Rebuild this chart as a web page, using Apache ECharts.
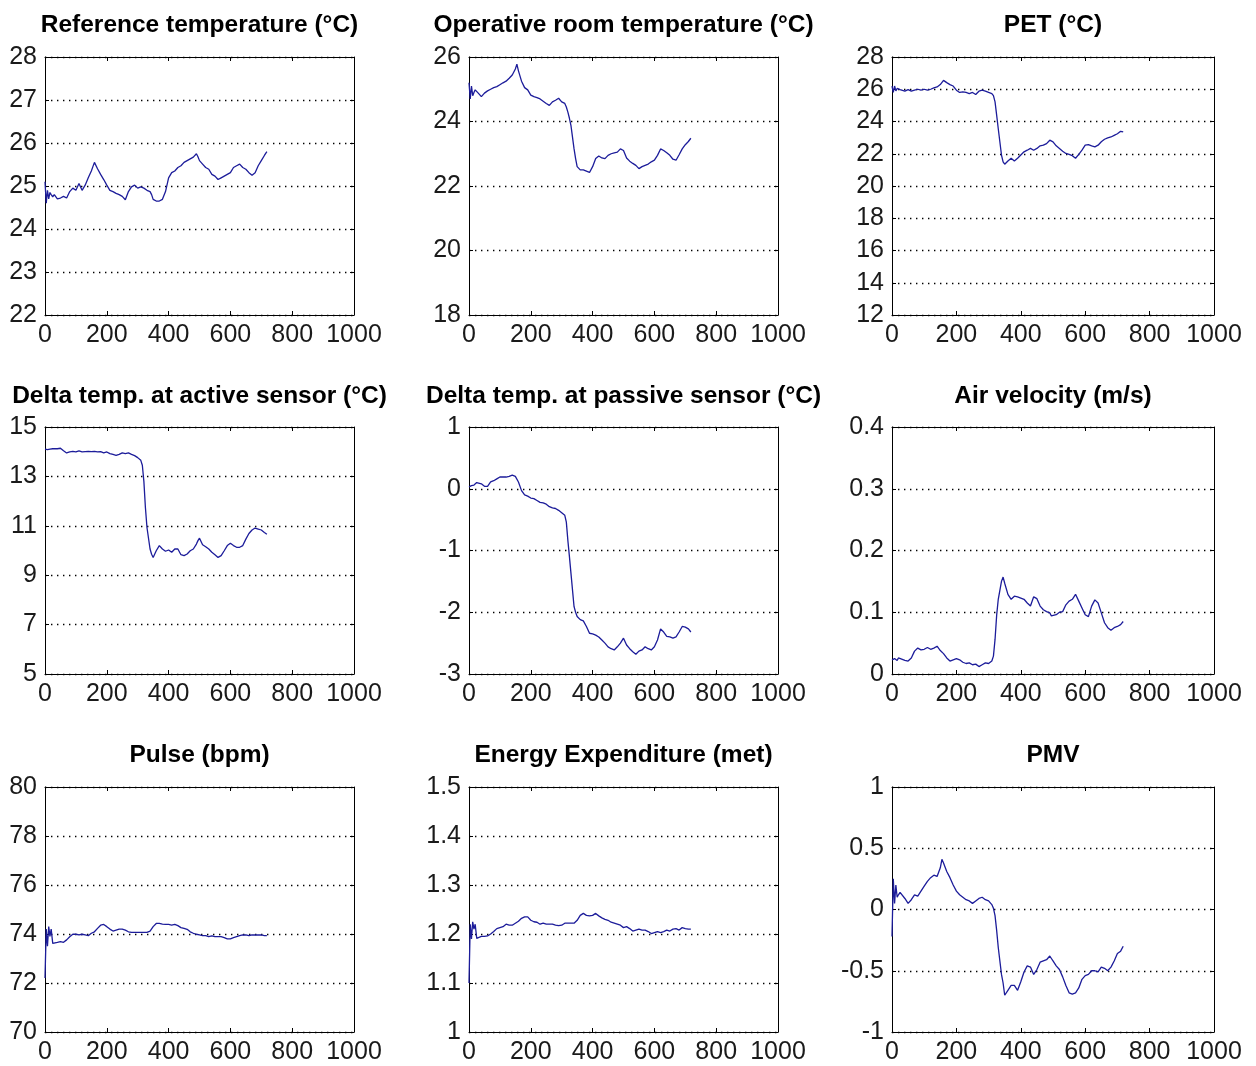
<!DOCTYPE html>
<html>
<head>
<meta charset="utf-8">
<script src="https://cdn.jsdelivr.net/npm/echarts@6/dist/echarts.min.js"></script>
<style>
  html, body { margin: 0; padding: 0; background: #fff; }
  #chart { width: 1256px; height: 1066px; }
</style>
</head>
<body>
<div id="chart"></div>
<script>
// Sample times (s) shared by all nine recordings
const time = [0,4,8,12,16,20,25,30,40,50,60,70,80,90,100,110,120,130,140,150,155,160,170,180,190,200,210,220,230,240,250,260,270,280,290,300,310,315,320,325,330,340,345,350,360,370,380,390,400,410,420,430,440,450,460,470,480,490,495,500,510,520,530,540,550,560,570,580,590,600,610,620,630,640,650,660,670,680,690,700,710,718];

const refTemp = [25.10,24.60,24.90,24.70,24.85,24.80,24.75,
  24.80,24.70,24.72,24.76,24.72,24.87,24.95,24.90,25.06,24.90,25.02,25.19,25.35,
  25.45,
  25.55,25.40,25.27,25.15,25.02,24.90,24.87,24.83,24.80,24.76,24.68,24.87,24.98,25.02,24.95,24.98,
  24.96,24.95,24.93,24.90,24.87,24.80,
  24.69,24.65,24.65,24.69,24.87,25.19,25.31,25.35,25.43,25.47,25.55,25.59,25.63,25.67,25.75,
  25.68,
  25.59,25.51,25.43,25.39,25.27,25.23,25.15,25.19,25.23,25.27,25.31,25.43,25.47,25.51,25.43,25.39,25.31,25.25,25.31,25.47,25.59,25.71,
  25.80];

const opTemp = [25.20,24.70,25.10,24.80,24.90,24.98,24.93,
  24.88,24.77,24.88,24.95,25.00,25.05,25.08,25.14,25.20,25.25,25.34,25.44,25.63,
  25.78,
  25.57,25.25,25.05,24.98,24.82,24.77,24.74,24.70,24.63,24.56,24.50,24.61,24.66,24.72,24.61,24.56,
  24.45,24.29,24.10,23.87,23.15,22.85,
  22.60,22.50,22.50,22.46,22.42,22.60,22.85,22.93,22.87,22.85,22.95,23.00,23.03,23.05,23.15,
  23.18,
  23.10,22.87,22.77,22.70,22.64,22.54,22.60,22.64,22.68,22.75,22.80,22.95,23.15,23.10,23.03,22.95,22.83,22.80,22.97,23.15,23.28,23.38,
  23.48];

const pet = [26.20,25.80,26.20,25.90,26.05,25.94,25.98,
  26.00,25.88,25.98,25.88,25.94,26.00,25.94,26.00,25.94,26.00,26.08,26.14,26.29,
  26.40,
  26.55,26.41,26.29,26.20,25.94,25.80,25.84,25.80,25.73,25.80,25.67,25.88,25.94,25.88,25.80,25.73,
  25.60,25.22,24.40,23.55,21.92,21.50,
  21.35,21.55,21.72,21.55,21.72,21.92,22.12,22.22,22.33,22.22,22.33,22.49,22.53,22.63,22.84,
  22.94,
  22.74,22.49,22.33,22.16,22.02,21.96,21.88,21.72,21.96,22.22,22.53,22.57,22.49,22.43,22.53,22.74,22.90,22.98,23.04,23.14,23.24,23.39,
  23.35];

const activeDelta = [14.10,14.10,14.08,14.12,14.10,14.10,14.12,
  14.14,14.12,14.14,14.04,13.95,13.99,14.01,13.99,14.03,13.99,14.00,14.01,14.00,
  14.00,
  14.01,13.99,14.00,13.95,13.99,13.92,13.89,13.85,13.89,13.95,13.92,13.95,13.89,13.84,13.76,13.65,
  13.45,12.80,11.73,10.93,10.06,9.85,
  9.72,9.99,10.20,10.06,9.97,10.02,9.93,10.06,10.06,9.83,9.79,9.86,9.99,10.06,10.26,
  10.40,
  10.50,10.23,10.15,10.06,9.93,9.83,9.72,9.79,9.99,10.20,10.29,10.20,10.13,10.13,10.20,10.46,10.69,10.83,10.91,10.87,10.83,10.73,
  10.66];

const passiveDelta = [0.03,0.00,0.05,0.02,0.06,0.08,0.10,
  0.13,0.08,0.04,0.04,0.11,0.13,0.16,0.19,0.19,0.19,0.20,0.22,0.20,
  0.17,
  0.11,-0.03,-0.10,-0.12,-0.15,-0.16,-0.19,-0.22,-0.23,-0.25,-0.29,-0.31,-0.32,-0.35,-0.39,-0.43,
  -0.54,-0.84,-1.10,-1.37,-1.91,-2.00,
  -2.07,-2.12,-2.14,-2.23,-2.34,-2.35,-2.37,-2.40,-2.45,-2.50,-2.56,-2.59,-2.61,-2.56,-2.50,
  -2.46,
  -2.42,-2.53,-2.59,-2.64,-2.68,-2.63,-2.61,-2.56,-2.59,-2.61,-2.56,-2.45,-2.27,-2.32,-2.39,-2.40,-2.42,-2.40,-2.32,-2.23,-2.24,-2.27,
  -2.32];

const airVelocity = [0.023,0.022,0.025,0.024,0.022,0.026,0.025,
  0.024,0.022,0.021,0.026,0.037,0.042,0.039,0.040,0.043,0.040,0.042,0.045,0.038,
  0.035,
  0.033,0.026,0.021,0.023,0.025,0.023,0.019,0.017,0.018,0.015,0.016,0.012,0.015,0.018,0.017,0.021,
  0.029,0.056,0.095,0.121,0.150,0.157,
  0.147,0.129,0.121,0.126,0.125,0.123,0.121,0.115,0.110,0.125,0.122,0.110,0.104,0.101,0.099,
  0.094,
  0.091,0.096,0.100,0.101,0.112,0.118,0.121,0.129,0.118,0.107,0.096,0.093,0.110,0.120,0.115,0.099,0.083,0.075,0.071,0.075,0.077,0.080,
  0.085];

const pulse = [72.20,74.20,73.50,74.30,73.90,74.20,73.62,
  73.62,73.66,73.69,73.66,73.76,73.89,73.99,73.99,73.96,73.99,73.96,73.93,74.03,
  74.06,
  74.09,74.23,74.36,74.39,74.30,74.20,74.12,74.16,74.20,74.20,74.16,74.09,74.07,74.07,74.07,74.07,
  74.07,74.07,74.07,74.07,74.12,74.20,
  74.30,74.43,74.43,74.40,74.39,74.39,74.36,74.39,74.34,74.26,74.23,74.19,74.09,74.03,73.99,
  73.97,
  73.96,73.93,73.93,73.89,73.92,73.89,73.89,73.89,73.85,73.80,73.80,73.85,73.89,73.93,73.96,73.96,73.93,73.96,73.96,73.96,73.96,73.93,
  73.93];

const energy = [1.100,1.220,1.190,1.225,1.210,1.220,1.191,
  1.188,1.195,1.195,1.196,1.200,1.205,1.211,1.213,1.215,1.220,1.218,1.218,1.222,
  1.224,
  1.226,1.232,1.235,1.235,1.228,1.225,1.224,1.220,1.222,1.220,1.220,1.220,1.218,1.217,1.218,1.222,
  1.222,1.222,1.222,1.222,1.222,1.225,
  1.228,1.238,1.242,1.238,1.237,1.238,1.242,1.237,1.233,1.230,1.228,1.224,1.222,1.220,1.218,
  1.215,
  1.213,1.215,1.211,1.206,1.208,1.210,1.208,1.208,1.205,1.201,1.203,1.205,1.203,1.205,1.208,1.206,1.210,1.211,1.208,1.213,1.211,1.210,
  1.210];

const pmv = [-0.22,0.25,0.05,0.20,0.10,0.12,0.14,
  0.15,0.09,0.05,0.08,0.12,0.11,0.15,0.19,0.23,0.26,0.28,0.27,0.34,
  0.41,
  0.38,0.31,0.26,0.20,0.15,0.12,0.10,0.08,0.07,0.05,0.07,0.09,0.10,0.08,0.07,0.04,
  0.01,-0.05,-0.17,-0.31,-0.53,-0.60,
  -0.70,-0.66,-0.62,-0.62,-0.66,-0.59,-0.51,-0.46,-0.47,-0.53,-0.49,-0.43,-0.42,-0.41,-0.38,
  -0.40,
  -0.42,-0.46,-0.49,-0.55,-0.62,-0.68,-0.69,-0.68,-0.64,-0.57,-0.54,-0.53,-0.50,-0.50,-0.51,-0.47,-0.48,-0.50,-0.47,-0.42,-0.36,-0.34,
  -0.30];

const panelTitles = [
  'Reference temperature (°C)', 'Operative room temperature (°C)', 'PET (°C)',
  'Delta temp. at active sensor (°C)', 'Delta temp. at passive sensor (°C)', 'Air velocity (m/s)',
  'Pulse (bpm)', 'Energy Expenditure (met)', 'PMV'
];
const panelSeries = [refTemp, opTemp, pet, activeDelta, passiveDelta, airVelocity, pulse, energy, pmv];
const yMin  = [22, 18, 12, 5, -3, 0,   70, 1,   -1];
const yMax  = [28, 26, 28, 15, 1, 0.4, 80, 1.5, 1];
const yStep = [1,  2,  2,  2,  1, 0.1, 2,  0.1, 0.5];
const xTicks = { min: 0, max: 1000, step: 200 };

// Plot-area geometry (px)
const colLeft  = [45, 469, 892];
const colWidth = [309, 309, 322];
const rowTop    = [57, 427, 787];
const rowHeight = [258, 247, 245];
const titleY    = [25, 396, 755];

const FONT = '"Liberation Sans", Arial, Helvetica, sans-serif';
const INK = '#000';
const LINE = '#1c1c9a';

// plain tick numbers: no thousands separator, trimmed float noise
function tickText(v) {
  return String(Math.round(v * 1000) / 1000);
}

const grids = [], xAxes = [], yAxes = [], series = [], graphics = [];

function axisBase(show) {
  return {
    axisLine: { show: true, onZero: false, lineStyle: { color: INK, width: 1 } },
    axisTick: { show: true, inside: true, length: 4, lineStyle: { color: INK } },
    axisLabel: show ? {
      show: true, color: '#1a1a1a', fontFamily: FONT, fontSize: 25, margin: 8,
      formatter: tickText
    } : { show: false },
    splitLine: { show: false }
  };
}

for (let i = 0; i < 9; i++) {
  const r = Math.floor(i / 3), c = i % 3;
  grids.push({
    left: colLeft[c], top: rowTop[r], width: colWidth[c], height: rowHeight[r],
    containLabel: false
  });

  // bottom and top x axes
  xAxes.push(Object.assign(axisBase(true), {
    type: 'value', gridIndex: i, position: 'bottom',
    min: xTicks.min, max: xTicks.max, interval: xTicks.step
  }));
  xAxes.push(Object.assign(axisBase(false), {
    type: 'value', gridIndex: i, position: 'top',
    min: xTicks.min, max: xTicks.max, interval: xTicks.step
  }));

  // left y axis carries labels and dotted grid lines; right y axis mirrors ticks
  const left = Object.assign(axisBase(true), {
    type: 'value', gridIndex: i, position: 'left',
    min: yMin[i], max: yMax[i], interval: yStep[i]
  });
  left.splitLine = { show: true, lineStyle: { color: INK, width: 1.4, type: [1.4, 4.6] } };
  yAxes.push(left);
  yAxes.push(Object.assign(axisBase(false), {
    type: 'value', gridIndex: i, position: 'right',
    min: yMin[i], max: yMax[i], interval: yStep[i]
  }));

  const vals = panelSeries[i];
  series.push({
    type: 'line',
    xAxisIndex: 2 * i, yAxisIndex: 2 * i,
    data: time.map((t, k) => [t, vals[k]]),
    showSymbol: false, symbol: 'none',
    lineStyle: { color: LINE, width: 1.3 },
    z: 5
  });

  graphics.push({
    type: 'text',
    x: colLeft[c] + colWidth[c] / 2,
    y: titleY[r],
    style: {
      text: panelTitles[i],
      textAlign: 'center', textVerticalAlign: 'middle',
      fontFamily: FONT, fontSize: 24.5, fontWeight: 'bold', fill: INK
    }
  });
}

const chart = echarts.init(document.getElementById('chart'), null, { renderer: 'canvas' });
chart.setOption({
  backgroundColor: '#fff',
  animation: false,
  grid: grids,
  xAxis: xAxes,
  yAxis: yAxes,
  series: series,
  graphic: graphics
});
</script>
</body>
</html>
